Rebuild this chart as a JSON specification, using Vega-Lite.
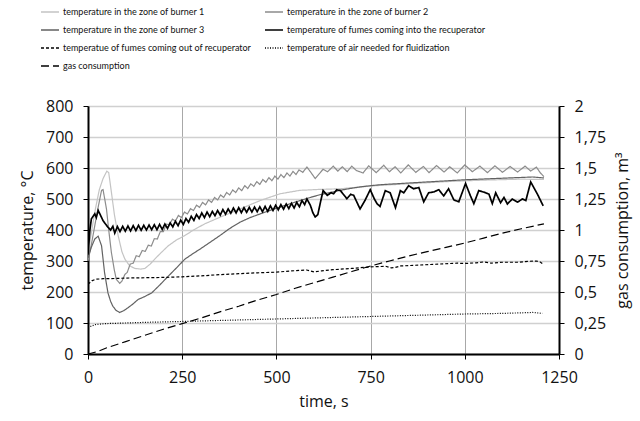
{
"$schema":"https://vega.github.io/schema/vega-lite/v6.json",
"width":471,"height":248,
"autosize":{"type":"none"},
"padding":{"left":88,"top":106,"right":81,"bottom":67},
"background":"white",
"config":{"view":{"stroke":null},"font":"Open Sans",
"axis":{"labelFont":"Open Sans","titleFont":"Open Sans","labelFontSize":16,"titleFontSize":16,"titleFontWeight":"normal","labelColor":"#111","titleColor":"#111","tickColor":"#000","domainColor":"#000","domainWidth":2,"tickSize":5,"tickWidth":1}},
"data":{"values":[
{"s":"a","t":0,"v":320},{"s":"a","t":10,"v":400},{"s":"a","t":20,"v":470},{"s":"a","t":30,"v":530},{"s":"a","t":40,"v":566},{"s":"a","t":50,"v":590},{"s":"a","t":55,"v":585},{"s":"a","t":62,"v":523},{"s":"a","t":70,"v":450},{"s":"a","t":80,"v":382},{"s":"a","t":90,"v":330},{"s":"a","t":98,"v":306},{"s":"a","t":110,"v":285},{"s":"a","t":124,"v":276},{"s":"a","t":140,"v":274},{"s":"a","t":151,"v":276},{"s":"a","t":165,"v":290},{"s":"a","t":177,"v":306},{"s":"a","t":195,"v":328},{"s":"a","t":213,"v":349},{"s":"a","t":235,"v":368},{"s":"a","t":257,"v":382},{"s":"a","t":280,"v":400},{"s":"a","t":310,"v":420},{"s":"a","t":350,"v":441},{"s":"a","t":400,"v":466},{"s":"a","t":457,"v":495},{"s":"a","t":510,"v":517},{"s":"a","t":563,"v":528},{"s":"a","t":616,"v":531},{"s":"a","t":670,"v":533},{"s":"a","t":723,"v":539},{"s":"a","t":776,"v":544},{"s":"a","t":850,"v":549},{"s":"a","t":950,"v":556},{"s":"a","t":1050,"v":561},{"s":"a","t":1150,"v":564},{"s":"a","t":1210,"v":563},
{"s":"b","t":0,"v":300},{"s":"b","t":10,"v":360},{"s":"b","t":18,"v":414},{"s":"b","t":28,"v":480},{"s":"b","t":36,"v":528},{"s":"b","t":40,"v":530},{"s":"b","t":49,"v":468},{"s":"b","t":55,"v":400},{"s":"b","t":62,"v":328},{"s":"b","t":70,"v":270},{"s":"b","t":75,"v":241},{"s":"b","t":84,"v":228},{"s":"b","t":90,"v":235},{"s":"b","t":98,"v":257},
{"s":"b","t":104,"v":263},{"s":"b","t":112,"v":290},{"s":"b","t":120,"v":293},{"s":"b","t":128,"v":317},{"s":"b","t":136,"v":314},{"s":"b","t":144,"v":334},{"s":"b","t":152,"v":331},{"s":"b","t":160,"v":351},{"s":"b","t":168,"v":348},{"s":"b","t":176,"v":372},{"s":"b","t":184,"v":371},{"s":"b","t":192,"v":395},{"s":"b","t":200,"v":395},{"s":"b","t":208,"v":419},{"s":"b","t":216,"v":417},{"s":"b","t":224,"v":435},{"s":"b","t":232,"v":429},{"s":"b","t":240,"v":447},{"s":"b","t":248,"v":440},{"s":"b","t":256,"v":458},{"s":"b","t":264,"v":452},{"s":"b","t":272,"v":469},{"s":"b","t":280,"v":463},{"s":"b","t":288,"v":480},{"s":"b","t":296,"v":473},{"s":"b","t":304,"v":489},{"s":"b","t":312,"v":481},{"s":"b","t":320,"v":497},{"s":"b","t":328,"v":489},{"s":"b","t":336,"v":505},{"s":"b","t":344,"v":497},{"s":"b","t":352,"v":513},{"s":"b","t":360,"v":505},{"s":"b","t":368,"v":521},{"s":"b","t":376,"v":513},{"s":"b","t":384,"v":529},{"s":"b","t":392,"v":521},{"s":"b","t":400,"v":536},{"s":"b","t":408,"v":527},{"s":"b","t":416,"v":543},{"s":"b","t":424,"v":534},{"s":"b","t":432,"v":549},{"s":"b","t":440,"v":541},{"s":"b","t":448,"v":556},{"s":"b","t":456,"v":547},{"s":"b","t":464,"v":563},{"s":"b","t":472,"v":554},{"s":"b","t":480,"v":569},{"s":"b","t":488,"v":559},{"s":"b","t":496,"v":574},{"s":"b","t":504,"v":564},{"s":"b","t":512,"v":579},{"s":"b","t":520,"v":569},{"s":"b","t":528,"v":584},{"s":"b","t":536,"v":574},{"s":"b","t":544,"v":589},{"s":"b","t":552,"v":579},{"s":"b","t":560,"v":594},
{"s":"b","t":570,"v":586},{"s":"b","t":581,"v":603},{"s":"b","t":592,"v":585},{"s":"b","t":603,"v":566},{"s":"b","t":614,"v":582},{"s":"b","t":624,"v":596},{"s":"b","t":636,"v":588},{"s":"b","t":651,"v":606},{"s":"b","t":663,"v":590},{"s":"b","t":675,"v":604},{"s":"b","t":688,"v":588},{"s":"b","t":700,"v":606},{"s":"b","t":712,"v":592},{"s":"b","t":730,"v":584},{"s":"b","t":745,"v":607},{"s":"b","t":765,"v":585},{"s":"b","t":785,"v":609},{"s":"b","t":800,"v":588},{"s":"b","t":815,"v":604},{"s":"b","t":830,"v":584},{"s":"b","t":850,"v":610},{"s":"b","t":870,"v":586},{"s":"b","t":890,"v":605},{"s":"b","t":905,"v":585},{"s":"b","t":925,"v":608},{"s":"b","t":945,"v":587},{"s":"b","t":960,"v":604},{"s":"b","t":980,"v":584},{"s":"b","t":1000,"v":610},{"s":"b","t":1020,"v":588},{"s":"b","t":1040,"v":606},{"s":"b","t":1060,"v":585},{"s":"b","t":1080,"v":607},{"s":"b","t":1100,"v":586},{"s":"b","t":1120,"v":605},{"s":"b","t":1140,"v":587},{"s":"b","t":1160,"v":606},{"s":"b","t":1175,"v":590},{"s":"b","t":1190,"v":603},{"s":"b","t":1200,"v":585},{"s":"b","t":1210,"v":572},
{"s":"c","t":0,"v":310},{"s":"c","t":9,"v":345},{"s":"c","t":18,"v":371},{"s":"c","t":27,"v":380},{"s":"c","t":36,"v":349},{"s":"c","t":44,"v":262},{"s":"c","t":53,"v":197},{"s":"c","t":60,"v":170},{"s":"c","t":66,"v":154},{"s":"c","t":75,"v":140},{"s":"c","t":84,"v":134},{"s":"c","t":95,"v":140},{"s":"c","t":106,"v":149},{"s":"c","t":120,"v":162},{"s":"c","t":133,"v":176},{"s":"c","t":150,"v":185},{"s":"c","t":169,"v":197},{"s":"c","t":190,"v":222},{"s":"c","t":213,"v":251},{"s":"c","t":235,"v":278},{"s":"c","t":257,"v":306},{"s":"c","t":280,"v":325},{"s":"c","t":297,"v":338},{"s":"c","t":320,"v":357},{"s":"c","t":350,"v":382},{"s":"c","t":375,"v":404},{"s":"c","t":403,"v":425},{"s":"c","t":430,"v":440},{"s":"c","t":457,"v":452},{"s":"c","t":485,"v":464},{"s":"c","t":510,"v":474},{"s":"c","t":537,"v":485},{"s":"c","t":563,"v":495},{"s":"c","t":590,"v":505},{"s":"c","t":616,"v":514},{"s":"c","t":643,"v":521},{"s":"c","t":669,"v":528},{"s":"c","t":696,"v":534},{"s":"c","t":723,"v":539},{"s":"c","t":750,"v":543},{"s":"c","t":776,"v":546},{"s":"c","t":830,"v":550},{"s":"c","t":900,"v":555},{"s":"c","t":1000,"v":562},{"s":"c","t":1100,"v":567},{"s":"c","t":1180,"v":571},{"s":"c","t":1210,"v":568},
{"s":"d","t":0,"v":320},{"s":"d","t":5,"v":400},{"s":"d","t":9,"v":436},{"s":"d","t":14,"v":445},{"s":"d","t":18,"v":452},{"s":"d","t":22,"v":440},{"s":"d","t":27,"v":463},{"s":"d","t":33,"v":448},{"s":"d","t":40,"v":430},{"s":"d","t":46,"v":420},{"s":"d","t":53,"v":409},{"s":"d","t":60,"v":400},{"s":"d","t":66,"v":412},{"s":"d","t":71,"v":390},
{"s":"d","t":78,"v":411},{"s":"d","t":85,"v":395},{"s":"d","t":92,"v":412},{"s":"d","t":99,"v":396},{"s":"d","t":106,"v":413},{"s":"d","t":113,"v":397},{"s":"d","t":120,"v":414},{"s":"d","t":127,"v":398},{"s":"d","t":134,"v":415},{"s":"d","t":141,"v":399},{"s":"d","t":148,"v":415},{"s":"d","t":155,"v":400},{"s":"d","t":162,"v":416},{"s":"d","t":169,"v":401},{"s":"d","t":176,"v":417},{"s":"d","t":183,"v":401},{"s":"d","t":190,"v":418},{"s":"d","t":197,"v":402},{"s":"d","t":204,"v":419},{"s":"d","t":211,"v":405},{"s":"d","t":218,"v":423},{"s":"d","t":225,"v":410},{"s":"d","t":232,"v":428},{"s":"d","t":239,"v":414},{"s":"d","t":246,"v":432},{"s":"d","t":253,"v":418},{"s":"d","t":260,"v":437},{"s":"d","t":267,"v":425},{"s":"d","t":274,"v":444},{"s":"d","t":281,"v":431},{"s":"d","t":288,"v":450},{"s":"d","t":295,"v":437},{"s":"d","t":302,"v":455},{"s":"d","t":309,"v":440},{"s":"d","t":316,"v":458},{"s":"d","t":323,"v":443},{"s":"d","t":330,"v":460},{"s":"d","t":337,"v":446},{"s":"d","t":344,"v":463},{"s":"d","t":351,"v":448},{"s":"d","t":358,"v":466},{"s":"d","t":365,"v":451},{"s":"d","t":372,"v":468},{"s":"d","t":379,"v":454},{"s":"d","t":386,"v":471},{"s":"d","t":393,"v":455},{"s":"d","t":400,"v":472},{"s":"d","t":407,"v":456},{"s":"d","t":414,"v":472},{"s":"d","t":421,"v":457},{"s":"d","t":428,"v":473},{"s":"d","t":435,"v":458},{"s":"d","t":442,"v":474},{"s":"d","t":449,"v":459},{"s":"d","t":456,"v":475},{"s":"d","t":463,"v":459},{"s":"d","t":470,"v":476},{"s":"d","t":477,"v":460},{"s":"d","t":484,"v":478},{"s":"d","t":491,"v":463},{"s":"d","t":498,"v":480},{"s":"d","t":505,"v":465},{"s":"d","t":512,"v":482},{"s":"d","t":519,"v":467},{"s":"d","t":526,"v":484},{"s":"d","t":533,"v":469},{"s":"d","t":540,"v":486},{"s":"d","t":547,"v":471},{"s":"d","t":554,"v":489},{"s":"d","t":561,"v":475},{"s":"d","t":568,"v":495},{"s":"d","t":575,"v":482},{"s":"d","t":581,"v":500},
{"s":"d","t":590,"v":480},{"s":"d","t":597,"v":455},{"s":"d","t":603,"v":442},{"s":"d","t":610,"v":450},{"s":"d","t":617,"v":490},{"s":"d","t":624,"v":527},{"s":"d","t":635,"v":512},{"s":"d","t":645,"v":520},{"s":"d","t":652,"v":517},{"s":"d","t":660,"v":530},{"s":"d","t":670,"v":527},{"s":"d","t":687,"v":501},{"s":"d","t":697,"v":515},{"s":"d","t":705,"v":512},{"s":"d","t":722,"v":468},{"s":"d","t":735,"v":495},{"s":"d","t":749,"v":530},{"s":"d","t":760,"v":500},{"s":"d","t":767,"v":485},{"s":"d","t":775,"v":476},{"s":"d","t":789,"v":527},{"s":"d","t":802,"v":520},{"s":"d","t":816,"v":472},{"s":"d","t":829,"v":527},{"s":"d","t":838,"v":520},{"s":"d","t":851,"v":543},{"s":"d","t":864,"v":533},{"s":"d","t":878,"v":537},{"s":"d","t":891,"v":491},{"s":"d","t":904,"v":520},{"s":"d","t":918,"v":523},{"s":"d","t":931,"v":530},{"s":"d","t":944,"v":510},{"s":"d","t":957,"v":533},{"s":"d","t":971,"v":497},{"s":"d","t":984,"v":491},{"s":"d","t":1002,"v":550},{"s":"d","t":1015,"v":510},{"s":"d","t":1024,"v":485},{"s":"d","t":1037,"v":527},{"s":"d","t":1051,"v":522},{"s":"d","t":1064,"v":516},{"s":"d","t":1073,"v":485},{"s":"d","t":1082,"v":520},{"s":"d","t":1095,"v":488},{"s":"d","t":1104,"v":505},{"s":"d","t":1113,"v":484},{"s":"d","t":1126,"v":500},{"s":"d","t":1140,"v":490},{"s":"d","t":1153,"v":500},{"s":"d","t":1162,"v":495},{"s":"d","t":1175,"v":555},{"s":"d","t":1193,"v":515},{"s":"d","t":1208,"v":478},
{"s":"e","t":0,"v":225},{"s":"e","t":10,"v":236},{"s":"e","t":20,"v":241},{"s":"e","t":40,"v":243},{"s":"e","t":60,"v":243},{"s":"e","t":100,"v":245},{"s":"e","t":150,"v":246},{"s":"e","t":200,"v":247},{"s":"e","t":250,"v":249},{"s":"e","t":300,"v":252},{"s":"e","t":350,"v":256},{"s":"e","t":400,"v":259},{"s":"e","t":450,"v":262},{"s":"e","t":500,"v":264},{"s":"e","t":540,"v":268},{"s":"e","t":580,"v":271},{"s":"e","t":600,"v":265},{"s":"e","t":620,"v":268},{"s":"e","t":650,"v":272},{"s":"e","t":700,"v":276},{"s":"e","t":750,"v":281},{"s":"e","t":790,"v":283},{"s":"e","t":805,"v":278},{"s":"e","t":815,"v":279},{"s":"e","t":830,"v":284},{"s":"e","t":880,"v":287},{"s":"e","t":930,"v":290},{"s":"e","t":980,"v":293},{"s":"e","t":1000,"v":292},{"s":"e","t":1030,"v":294},{"s":"e","t":1050,"v":297},{"s":"e","t":1070,"v":293},{"s":"e","t":1100,"v":296},{"s":"e","t":1140,"v":296},{"s":"e","t":1170,"v":299},{"s":"e","t":1190,"v":300},{"s":"e","t":1200,"v":297},{"s":"e","t":1208,"v":290},
{"s":"f","t":0,"v":86},{"s":"f","t":20,"v":95},{"s":"f","t":44,"v":98},{"s":"f","t":100,"v":100},{"s":"f","t":150,"v":102},{"s":"f","t":250,"v":105},{"s":"f","t":375,"v":109},{"s":"f","t":500,"v":113},{"s":"f","t":625,"v":117},{"s":"f","t":750,"v":121},{"s":"f","t":875,"v":125},{"s":"f","t":1000,"v":129},{"s":"f","t":1100,"v":131},{"s":"f","t":1180,"v":134},{"s":"f","t":1206,"v":131},
{"s":"g","t":0,"v":0},{"s":"g","t":25,"v":0.02},{"s":"g","t":50,"v":0.05},{"s":"g","t":100,"v":0.1},{"s":"g","t":150,"v":0.15},{"s":"g","t":200,"v":0.2},{"s":"g","t":250,"v":0.245},{"s":"g","t":300,"v":0.29},{"s":"g","t":350,"v":0.34},{"s":"g","t":400,"v":0.385},{"s":"g","t":450,"v":0.435},{"s":"g","t":500,"v":0.48},{"s":"g","t":550,"v":0.53},{"s":"g","t":600,"v":0.575},{"s":"g","t":650,"v":0.62},{"s":"g","t":700,"v":0.665},{"s":"g","t":750,"v":0.71},{"s":"g","t":800,"v":0.75},{"s":"g","t":850,"v":0.79},{"s":"g","t":900,"v":0.825},{"s":"g","t":950,"v":0.86},{"s":"g","t":1000,"v":0.895},{"s":"g","t":1050,"v":0.935},{"s":"g","t":1100,"v":0.975},{"s":"g","t":1150,"v":1.01},{"s":"g","t":1210,"v":1.05}
]},
"encoding":{
"x":{"field":"t","type":"quantitative","scale":{"domain":[0,1250],"nice":false},"axis":{"title":"time, s","format":"d","values":[0,250,500,750,1000,1250],"grid":true,"gridColor":"#a8a8a8","gridWidth":1,"labelPadding":10,"titlePadding":8,"labelFlush":false}},
"color":{"field":"s","type":"nominal","scale":{"domain":["a","c","e","g","b","d","f"],"range":["#c4c4c4","#626262","#000000","#000000","#8c8c8c","#000000","#000000"]},
"legend":{"orient":"none","legendX":-48,"legendY":-104,"columns":2,"columnPadding":10,"rowPadding":3,"title":null,"labelFont":"Lato","labelFontSize":9,"labelColor":"#111","symbolType":"stroke","symbolSize":324,"symbolStrokeWidth":1.5,"labelOffset":3,"labelLimit":300,
"labelExpr":"datum.value=='a'?'temperature in the zone of burner 1':datum.value=='b'?'temperature in the zone of burner 2':datum.value=='c'?'temperature in the zone of burner 3':datum.value=='d'?'temperature of fumes coming into the recuperator':datum.value=='e'?'temperatue of fumes coming out of recuperator':datum.value=='f'?'temperature of air needed for fluidization':'gas consumption'"}},
"strokeDash":{"field":"s","type":"nominal","scale":{"domain":["a","c","e","g","b","d","f"],"range":[[1,0],[1,0],[3,2],[8,4],[1,0],[1,0],[1,1.5]]},"legend":null},
"strokeWidth":{"condition":{"test":"datum.s=='d'","value":1.7},"value":1.2}
},
"layer":[
{"transform":[{"filter":"datum.s!='g'"}],
"mark":{"type":"line","clip":true},
"encoding":{"y":{"field":"v","type":"quantitative","scale":{"domain":[0,800],"nice":false},"axis":{"orient":"left","title":"temperature, °C","values":[0,100,200,300,400,500,600,700,800],"grid":true,"gridColor":"#d0d0d0","gridWidth":1.5,"labelPadding":10,"titlePadding":10}}}},
{"transform":[{"filter":"datum.s=='g'"}],
"mark":{"type":"line","clip":true},
"encoding":{"y":{"field":"v","type":"quantitative","scale":{"domain":[0,2],"nice":false},"axis":{"orient":"right","title":"gas consumption, m³","titleAngle":270,"values":[0,0.25,0.5,0.75,1,1.25,1.5,1.75,2],"grid":false,"labelPadding":10,"titlePadding":25,"labelExpr":"replace(toString(datum.value),'.',',')"}}}}
],
"resolve":{"scale":{"y":"independent"}}
}
